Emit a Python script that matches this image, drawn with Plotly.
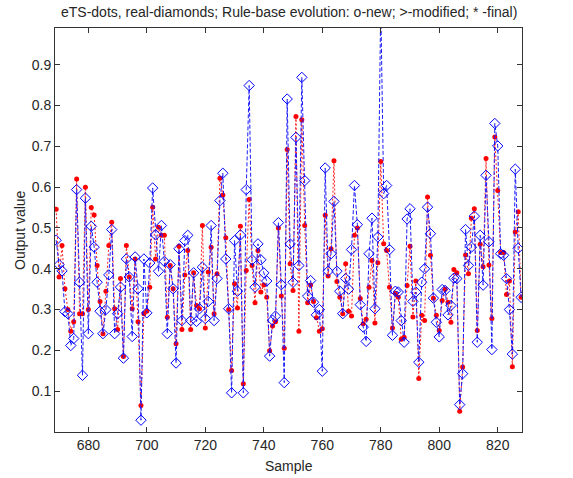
import plotly.graph_objects as go

start_sample = 669
real_values = [
    0.47, 0.41, 0.395, 0.295, 0.29, 0.212, 0.229, 0.594, 0.367, 0.139,
    0.573, 0.241, 0.504, 0.453, 0.367, 0.296, 0.241, 0.300, 0.385, 0.496,
    0.241, 0.290, 0.355, 0.181, 0.424, 0.380, 0.234, 0.429, 0.351, 0.029,
    0.424, 0.292, 0.414, 0.598, 0.483, 0.394, 0.506, 0.418, 0.241, 0.41,
    0.351, 0.169, 0.449, 0.273, 0.469, 0.482, 0.273, 0.39, 0.271, 0.302,
    0.404, 0.278, 0.320, 0.506, 0.273, 0.376, 0.567, 0.634, 0.424, 0.302,
    0.096, 0.469, 0.345, 0.483, 0.096, 0.594, 0.849, 0.422, 0.355, 0.461,
    0.422, 0.39, 0.37, 0.186, 0.274, 0.284, 0.513, 0.361, 0.121, 0.816,
    0.461, 0.367, 0.722, 0.408, 0.869, 0.616, 0.333, 0.371, 0.318, 0.287,
    0.30, 0.149, 0.647, 0.394, 0.437, 0.565, 0.394, 0.345, 0.29, 0.376,
    0.35, 0.447, 0.604, 0.508, 0.312, 0.257, 0.222, 0.437, 0.524, 0.302,
    0.478, 1.05, 0.584, 0.604, 0.447, 0.237, 0.345, 0.343, 0.273, 0.220,
    0.522, 0.547, 0.32, 0.343, 0.171, 0.367, 0.40, 0.551, 0.486, 0.328,
    0.269, 0.233, 0.349, 0.347, 0.287, 0.310, 0.377, 0.376, 0.067, 0.143,
    0.496, 0.408, 0.453, 0.529, 0.220, 0.482, 0.36, 0.629, 0.466, 0.202,
    0.756, 0.701, 0.437, 0.433, 0.376, 0.30, 0.191, 0.644, 0.45, 0.33,
]
ets_values = [
    0.546, 0.38, 0.457, 0.351, 0.30, 0.247, 0.27, 0.62, 0.29, 0.29,
    0.60, 0.30, 0.55, 0.532, 0.408, 0.32, 0.241, 0.345, 0.457, 0.514,
    0.302, 0.251, 0.376, 0.185, 0.457, 0.38, 0.302, 0.424, 0.27, 0.065,
    0.29, 0.296, 0.355, 0.551, 0.424, 0.502, 0.482, 0.482, 0.281, 0.408,
    0.351, 0.216, 0.455, 0.251, 0.385, 0.445, 0.251, 0.39, 0.31, 0.302,
    0.506, 0.255, 0.392, 0.453, 0.29, 0.388, 0.622, 0.581, 0.476, 0.30,
    0.151, 0.363, 0.304, 0.504, 0.118, 0.396, 0.57, 0.408, 0.317, 0.445,
    0.343, 0.36, 0.33, 0.199, 0.26, 0.27, 0.50, 0.333, 0.205, 0.692,
    0.412, 0.347, 0.773, 0.247, 0.765, 0.506, 0.317, 0.36, 0.32, 0.28,
    0.247, 0.253, 0.531, 0.382, 0.449, 0.665, 0.369, 0.33, 0.29, 0.412,
    0.296, 0.284, 0.482, 0.50, 0.327, 0.265, 0.276, 0.355, 0.42, 0.267,
    0.415, 0.663, 0.461, 0.445, 0.355, 0.255, 0.34, 0.33, 0.227, 0.232,
    0.359, 0.455, 0.282, 0.37, 0.131, 0.286, 0.273, 0.576, 0.433, 0.328,
    0.286, 0.249, 0.322, 0.35, 0.318, 0.269, 0.398, 0.39, 0.051, 0.159,
    0.434, 0.388, 0.524, 0.547, 0.249, 0.46, 0.405, 0.670, 0.409, 0.278,
    0.723, 0.592, 0.44, 0.44, 0.337, 0.37, 0.16, 0.49, 0.54, 0.33,
]
samples = list(range(start_sample, start_sample + len(real_values)))

x_ticks = [680, 700, 720, 740, 760, 780, 800, 820]
y_ticks = [0.1, 0.2, 0.3, 0.4, 0.5, 0.6, 0.7, 0.8, 0.9]

title_text = "eTS-dots, real-diamonds; Rule-base evolution: o-new; >-modified; * -final)"
FONT = "Liberation Sans, Arial, sans-serif"
FS = 14

fig = go.Figure()
fig.add_trace(go.Scatter(
    x=samples, y=ets_values, mode="lines+markers", name="eTS",
    line=dict(color="#ff1a1a", width=1, dash="2px,2px"),
    marker=dict(symbol="circle", size=5, color="#ff0000"),
))
fig.add_trace(go.Scatter(
    x=samples, y=real_values, mode="lines+markers", name="real",
    line=dict(color="#1a1aff", width=1, dash="4px,2px"),
    marker=dict(symbol="diamond-open", size=8, color="#0000ff", line=dict(width=1)),
))

fig.update_layout(
    width=573, height=478, autosize=False,
    margin=dict(l=55, r=51, t=28, b=46),
    paper_bgcolor="white", plot_bgcolor="white",
    showlegend=False,
    font=dict(family=FONT, size=FS, color="#262626"),
    xaxis=dict(
        range=[668.6, 828.3], tickmode="array", tickvals=x_ticks,
        ticktext=[str(v) for v in x_ticks],
        showgrid=False, zeroline=False, showline=True, linecolor="#333333",
        linewidth=1, mirror="ticks", ticks="inside", ticklen=5, tickcolor="#333333",
        tickfont=dict(size=FS),
    ),
    yaxis=dict(
        range=[0, 0.99], tickmode="array", tickvals=y_ticks,
        ticktext=[f"{v:.1f}" for v in y_ticks],
        showgrid=False, zeroline=False, showline=True, linecolor="#333333",
        linewidth=1, mirror="ticks", ticks="inside", ticklen=5, tickcolor="#333333",
        tickfont=dict(size=FS),
    ),
    annotations=[
        dict(text=title_text, xref="paper", yref="paper", x=0.5, y=1.0,
             yshift=16, showarrow=False, xanchor="center", yanchor="middle",
             font=dict(size=FS)),
        dict(text="Sample", xref="paper", yref="paper", x=0.5, y=0,
             yshift=-34, showarrow=False, xanchor="center", yanchor="middle",
             font=dict(size=FS)),
        dict(text="Output value", xref="paper", yref="paper", x=0, y=0.5,
             xshift=-35, showarrow=False, xanchor="center", yanchor="middle",
             textangle=-90, font=dict(size=FS)),
    ],
)

fig.write_html(
    "out.html",
    config={"displayModeBar": False},
    post_script="document.body.style.margin='0';document.body.style.overflow='hidden';",
)
